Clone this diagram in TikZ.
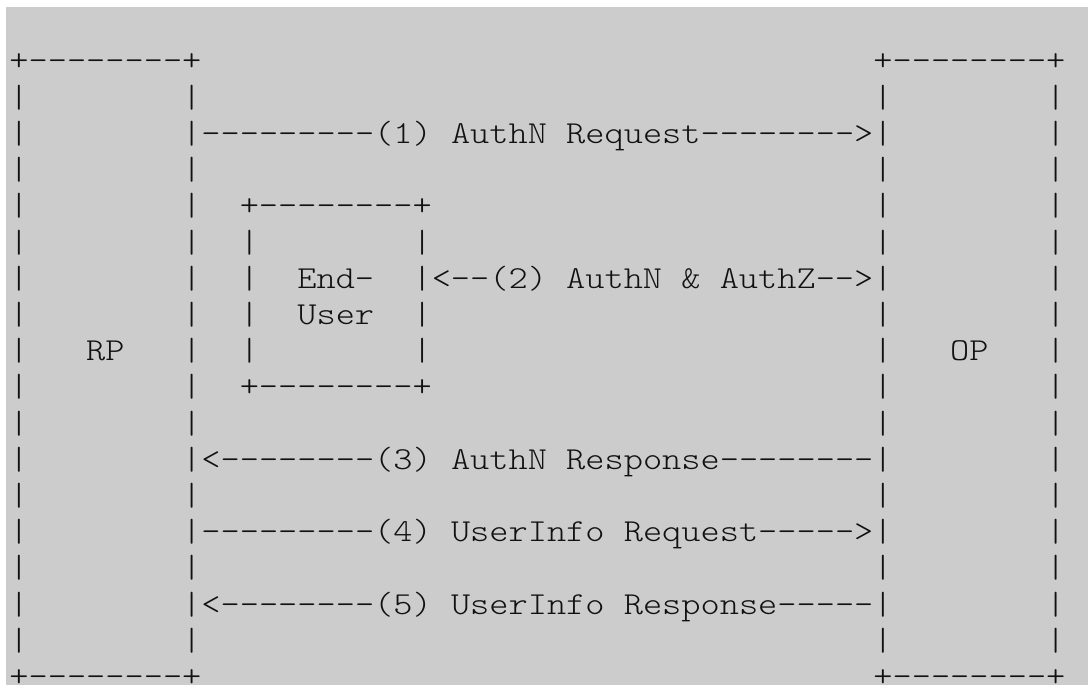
\documentclass[tikz,border=0pt]{standalone}
\usepackage{fontspec}
\setmonofont{lmmonolt10-regular.otf}[FakeStretch=1.1429]
\newlength\cw
\setlength\cw{19.2pt}
\newcommand\gp[1]{\hspace*{#1\cw}}
\definecolor{bggray}{HTML}{CCCCCC}
\definecolor{ink}{HTML}{111111}
\tikzset{
  asciiline/.style={anchor=base west, inner sep=0pt, outer sep=0pt, text=ink,
    font=\fontsize{32}{36.2}\selectfont\ttfamily\frenchspacing}
}
\begin{document}
\begin{tikzpicture}[x=1pt,y=1pt]
\useasboundingbox (0,0) rectangle (1088,-690);
\fill[white] (0,0) rectangle (1088,-690);
\fill[bggray] (6,-7) rectangle (1088,-685);
\def\lx{9.4}
\def\ly#1{-(71+36.2*(#1-1))}
\node[asciiline] (l1)  at (\lx,{\ly{1}})  {+--------+\gp{35}+--------+};
\node[asciiline] (l2)  at (\lx,{\ly{2}})  {|\gp{8}|\gp{35}|\gp{8}|};
\node[asciiline] (l3)  at (\lx,{\ly{3}})  {|\gp{8}|---------(1) AuthN Request-------->|\gp{8}|};
\node[asciiline] (l4)  at (\lx,{\ly{4}})  {|\gp{8}|\gp{35}|\gp{8}|};
\node[asciiline] (l5)  at (\lx,{\ly{5}})  {|\gp{8}|\gp{2}+--------+\gp{23}|\gp{8}|};
\node[asciiline] (l6)  at (\lx,{\ly{6}})  {|\gp{8}|\gp{2}|\gp{8}|\gp{23}|\gp{8}|};
\node[asciiline] (l7)  at (\lx,{\ly{7}})  {|\gp{8}|\gp{2}|\gp{2}End-\gp{2}|<--(2) AuthN \& AuthZ-->|\gp{8}|};
\node[asciiline] (l8)  at (\lx,{\ly{8}})  {|\gp{8}|\gp{2}|\gp{2}User\gp{2}|\gp{23}|\gp{8}|};
\node[asciiline] (l9)  at (\lx,{\ly{9}})  {|\gp{3}RP\gp{3}|\gp{2}|\gp{8}|\gp{23}|\gp{3}OP\gp{3}|};
\node[asciiline] (l10) at (\lx,{\ly{10}}) {|\gp{8}|\gp{2}+--------+\gp{23}|\gp{8}|};
\node[asciiline] (l11) at (\lx,{\ly{11}}) {|\gp{8}|\gp{35}|\gp{8}|};
\node[asciiline] (l12) at (\lx,{\ly{12}}) {|\gp{8}|<--------(3) AuthN Response--------|\gp{8}|};
\node[asciiline] (l13) at (\lx,{\ly{13}}) {|\gp{8}|\gp{35}|\gp{8}|};
\node[asciiline] (l14) at (\lx,{\ly{14}}) {|\gp{8}|---------(4) UserInfo Request----->|\gp{8}|};
\node[asciiline] (l15) at (\lx,{\ly{15}}) {|\gp{8}|\gp{35}|\gp{8}|};
\node[asciiline] (l16) at (\lx,{\ly{16}}) {|\gp{8}|<--------(5) UserInfo Response-----|\gp{8}|};
\node[asciiline] (l17) at (\lx,{\ly{17}}) {|\gp{8}|\gp{35}|\gp{8}|};
\node[asciiline] (l18) at (\lx,{\ly{18}}) {+--------+\gp{35}+--------+};
\end{tikzpicture}
\end{document}
